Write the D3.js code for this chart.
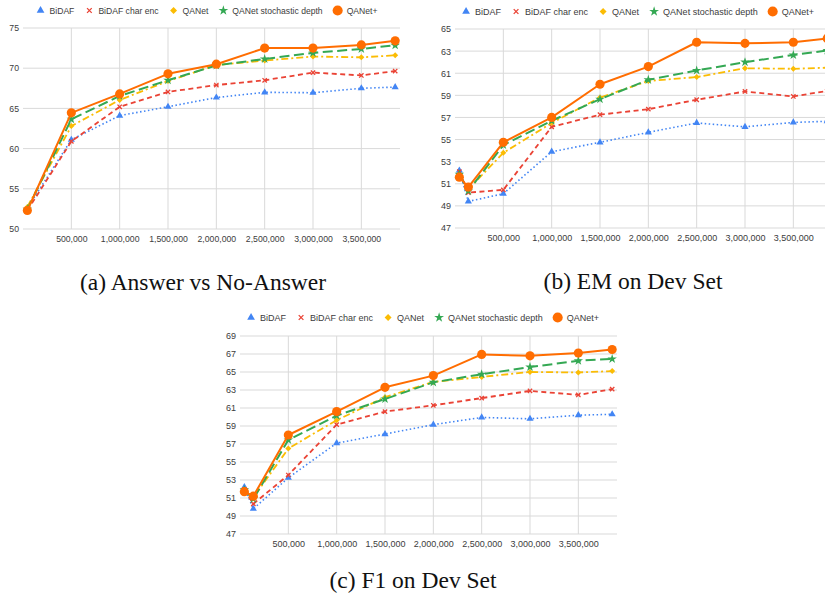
<!DOCTYPE html>
<html>
<head>
<meta charset="utf-8">
<script src="https://cdn.jsdelivr.net/npm/d3@7"></script>
<style>
  body { margin: 0; background: #fff; }
  svg { display: block; }
</style>
</head>
<body>
<script>
const W = 825;
const H = 600;

// * DATA
const seriesNames = ["BiDAF", "BiDAF char enc", "QANet", "QANet stochastic depth", "QANet+"];
const xTicks = [500000, 1000000, 1500000, 2000000, 2500000, 3000000, 3500000];

const stepsA = [45000, 500000, 1000000, 1500000, 2000000, 2500000, 3000000, 3500000, 3850000];
const stepsBC = [45000, 138000, 500000, 1000000, 1500000, 2000000, 2500000, 3000000, 3500000, 3850000];

// (a) Answer vs No-Answer
const ansBiDAF = [52.6, 61.1, 64.1, 65.2, 66.35, 67.0, 66.95, 67.5, 67.65];
const ansCharEnc = [52.3, 60.9, 65.2, 67.05, 67.9, 68.5, 69.45, 69.1, 69.65];
const ansQANet = [52.75, 62.8, 66.05, 68.4, 70.4, 70.95, 71.45, 71.35, 71.6];
const ansStoch = [52.45, 63.65, 66.55, 68.5, 70.35, 71.15, 71.9, 72.4, 72.85];
const ansQANetPlus = [52.3, 64.45, 66.8, 69.3, 70.5, 72.5, 72.5, 72.9, 73.4];
const ticksA = [50, 55, 60, 65, 70, 75];

// (b) EM on Dev Set
const emBiDAF = [52.2, 49.4, 50.1, 53.9, 54.75, 55.65, 56.5, 56.15, 56.55, 56.65];
const emCharEnc = [52.1, 50.2, 50.45, 56.15, 57.25, 57.75, 58.6, 59.35, 58.9, 59.4];
const emQANet = [51.75, 50.5, 53.8, 56.5, 58.8, 60.3, 60.65, 61.45, 61.4, 61.5];
const emStoch = [51.85, 50.35, 54.5, 56.7, 58.65, 60.4, 61.25, 62.0, 62.65, 63.05];
const emQANetPlus = [51.6, 50.7, 54.75, 57.0, 60.0, 61.6, 63.8, 63.7, 63.8, 64.15];
const ticksB = [47, 49, 51, 53, 55, 57, 59, 61, 63, 65];

// (c) F1 on Dev Set
const f1BiDAF = [52.2, 49.8, 53.25, 57.1, 58.1, 59.15, 59.95, 59.8, 60.2, 60.3];
const f1CharEnc = [51.95, 50.35, 53.55, 59.15, 60.6, 61.3, 62.1, 62.9, 62.45, 63.1];
const f1QANet = [51.8, 51.05, 56.5, 59.65, 62.2, 63.9, 64.45, 65.0, 64.95, 65.1];
const f1Stoch = [51.9, 50.9, 57.45, 60.15, 62.0, 63.85, 64.75, 65.55, 66.25, 66.45];
const f1QANetPlus = [51.7, 51.2, 58.0, 60.6, 63.3, 64.6, 66.95, 66.8, 67.1, 67.5];
const ticksC = [47, 49, 51, 53, 55, 57, 59, 61, 63, 65, 67, 69];

// * STYLES
const colors = ["#4285f4", "#ea4335", "#fbbc04", "#34a853", "#ff6d01"];
const dashes = ["1.5,2.5", "5,3.5", "7,3,2,3", "10,4.5", null];
const widths = [1.6, 1.8, 1.8, 2, 2];
const symbols = [d3.symbolTriangle, d3.symbolTimes, d3.symbolSquare, d3.symbolStar, d3.symbolCircle];
const rotations = [0, 0, 45, 0, 0];
const symSizes = [22, 14, 18, 28, 66];
const legendSizes = [26, 16, 24, 30, 80];

const svg = d3.select("body").append("svg").attr("width", W).attr("height", H);

function drawChart(cfg) {
	const g = svg.append("g");
	const x = d3.scaleLinear().domain([0, 3900000]).range([cfg.left, cfg.left + 377]);
	const y = d3.scaleLinear().domain(d3.extent(cfg.yTicks)).range([cfg.bottom, cfg.top]);

	// gridlines
	g.selectAll(".hgrid").data(cfg.yTicks).enter().append("line")
		.attr("x1", x.range()[0]).attr("x2", x.range()[1])
		.attr("y1", (d) => y(d)).attr("y2", (d) => y(d))
		.attr("stroke", "#d9d9d9").attr("stroke-width", 1);
	g.selectAll(".vgrid").data(xTicks).enter().append("line")
		.attr("x1", (d) => x(d)).attr("x2", (d) => x(d))
		.attr("y1", cfg.top).attr("y2", cfg.bottom)
		.attr("stroke", "#d9d9d9").attr("stroke-width", 1);

	// axes (labels only)
	const yAxis = g.append("g")
		.attr("transform", "translate(" + (cfg.left - 4) + ",0)")
		.call(d3.axisLeft(y).tickValues(cfg.yTicks).tickSize(0).tickPadding(0));
	const xAxis = g.append("g")
		.attr("transform", "translate(0," + cfg.bottom + ")")
		.call(d3.axisBottom(x).tickValues(xTicks).tickSize(0).tickPadding(7)
			.tickFormat(d3.format(",")));
	[xAxis, yAxis].forEach((a) => {
		a.select(".domain").remove();
		a.selectAll("text")
			.attr("fill", "#3c3c3c")
			.style("font-family", "'Liberation Sans', Arial, sans-serif")
			.style("font-size", cfg.font + "px");
	});

	// series
	cfg.series.forEach((vals, i) => {
		const pts = vals.map((v, j) => [cfg.steps[j], v]);
		const line = d3.line().x((d) => x(d[0])).y((d) => y(d[1]));
		g.append("path")
			.attr("d", line(pts))
			.attr("fill", "none")
			.attr("stroke", colors[i])
			.attr("stroke-width", widths[i])
			.attr("stroke-dasharray", dashes[i])
			.attr("stroke-linejoin", "round");
		const sym = d3.symbol().type(symbols[i]).size(symSizes[i]);
		g.selectAll(".m" + i).data(pts).enter().append("path")
			.attr("d", sym)
			.attr("transform", (d) => "translate(" + x(d[0]) + "," + y(d[1]) + ") rotate(" + rotations[i] + ")")
			.attr("fill", i === 1 ? "none" : colors[i])
			.attr("stroke", i === 1 ? colors[i] : "none")
			.attr("stroke-width", 1.3);
	});

	// legend
	const leg = g.append("g");
	let cx = 0;
	seriesNames.forEach((name, i) => {
		const item = leg.append("g").attr("transform", "translate(" + cx + ",0)");
		item.append("path")
			.attr("d", d3.symbol().type(symbols[i]).size(legendSizes[i]))
			.attr("transform", "rotate(" + rotations[i] + ")")
			.attr("fill", i === 1 ? "none" : colors[i])
			.attr("stroke", i === 1 ? colors[i] : "none")
			.attr("stroke-width", 1.3);
		const t = item.append("text")
			.attr("x", 9).attr("y", 3.2)
			.attr("fill", "#3c3c3c")
			.style("font-family", "'Liberation Sans', Arial, sans-serif")
			.style("font-size", cfg.legendFont + "px")
			.text(name);
		cx += 9 + t.node().getComputedTextLength() + 15;
	});
	const legW = cx - 15;
	leg.attr("transform", "translate(" + (cfg.legendX - legW / 2 + 4) + "," + cfg.legendY + ")");

	// caption
	svg.append("text")
		.attr("x", cfg.capX).attr("y", cfg.capY)
		.attr("text-anchor", "middle")
		.attr("fill", "#111")
		.style("font-family", "'Liberation Serif', 'Times New Roman', serif")
		.style("font-size", "23.5px")
		.text(cfg.caption);
}

drawChart({
	left: 23, top: 28, bottom: 229, yTicks: ticksA, steps: stepsA,
	series: [ansBiDAF, ansCharEnc, ansQANet, ansStoch, ansQANetPlus],
	font: 8.7, legendFont: 8.6, legendX: 205, legendY: 10.5,
	caption: "(a) Answer vs No-Answer", capX: 203, capY: 290,
});
drawChart({
	left: 455, top: 29, bottom: 228, yTicks: ticksB, steps: stepsBC,
	series: [emBiDAF, emCharEnc, emQANet, emStoch, emQANetPlus],
	font: 9, legendFont: 9, legendX: 636, legendY: 11.5,
	caption: "(b) EM on Dev Set", capX: 633, capY: 289,
});
drawChart({
	left: 240, top: 336, bottom: 534, yTicks: ticksC, steps: stepsBC,
	series: [f1BiDAF, f1CharEnc, f1QANet, f1Stoch, f1QANetPlus],
	font: 9, legendFont: 9, legendX: 421, legendY: 317.5,
	caption: "(c) F1 on Dev Set", capX: 413, capY: 588,
});
</script>
</body>
</html>
